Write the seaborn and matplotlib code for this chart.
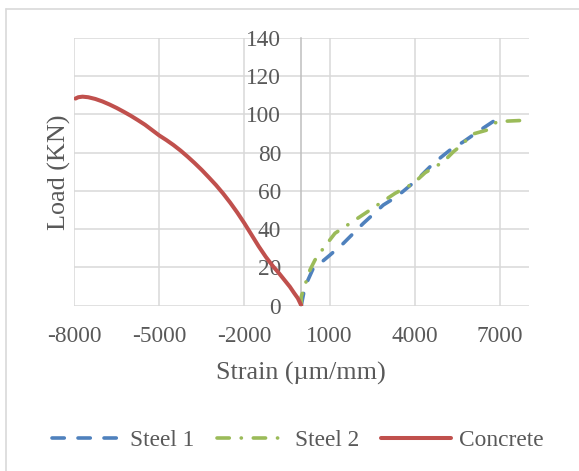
import matplotlib
matplotlib.use("Agg")
import matplotlib.pyplot as plt
from matplotlib.lines import Line2D
import seaborn as sns
import pandas as pd

# Concrete strain (compression, negative) vs load
concrete_strain = [0, -30, -120, -250, -400, -600, -800, -1000, -1250, -1500,
                   -1750, -2000, -2250, -2500, -2750, -3000, -3250, -3500, -3750,
                   -4000, -4250, -4500, -4750, -5000, -5250, -5500, -5750, -6000,
                   -6250, -6500, -6750, -7000, -7250, -7500, -7700, -7850, -7950]
concrete_load = [0, 1.0, 3.8, 6.5, 9.8, 13.5, 17.2, 20.6, 25.5, 31.0,
                 37.0, 43.0, 48.6, 53.8, 58.6, 63.0, 67.0, 70.9, 74.5,
                 77.9, 81.1, 84.0, 86.6, 89.0, 91.8, 94.6, 97.0, 99.3,
                 101.4, 103.4, 105.2, 106.8, 108.1, 109.0, 109.3, 109.0, 108.3]

# Steel 1 strain vs load
steel1_strain = [0, 130, 423, 659, 1011, 1481, 2185, 2890, 3363, 4068,
                 4653, 5241, 5710, 6300, 6887]
steel1_load = [0, 9.8, 19.5, 22.0, 26.4, 32.5, 43.0, 52.6, 57.0, 65.7,
               74.4, 81.4, 85.7, 91.8, 97.6]

# Steel 2 strain vs load
steel2_strain = [0, 0, 130, 307, 483, 776, 1188, 1717, 2245, 2774, 3303, 3948,
                 4360, 5005, 5358, 5653, 6006, 6535, 6887, 7240, 8000]
steel2_load = [0, 4.6, 10.7, 18.6, 23.8, 29.9, 37.8, 43.0, 48.2, 53.5, 58.7, 63.9,
               69.5, 75.2, 80.5, 84.0, 89.6, 91.8, 96.2, 96.5, 97.0]

x_ticks = [-8000, -5000, -2000, 1000, 4000, 7000]
y_ticks = [0, 20, 40, 60, 80, 100, 120, 140]

BLUE = "#4F81BD"
GREEN = "#9BBB59"
RED = "#C0504D"
GRID = "#D9D9D9"
TEXT = "#595959"

sns.set_theme(style="white")
plt.rcParams["font.family"] = ["Liberation Serif", "DejaVu Serif"]

W, H = 579, 471
fig = plt.figure(figsize=(W / 100, H / 100), dpi=100)
ax = fig.add_axes([74 / W, 1 - 305.5 / H, (528.5 - 74) / W, (305.5 - 38) / H])

steel1 = pd.DataFrame({"strain": steel1_strain, "load": steel1_load})
steel2 = pd.DataFrame({"strain": steel2_strain, "load": steel2_load})
concrete = pd.DataFrame({"strain": concrete_strain, "load": concrete_load})

lw = 2.6
sns.lineplot(data=steel1, x="strain", y="load", ax=ax, sort=False, estimator=None,
             color=BLUE, lw=lw, label="Steel 1")
ax.lines[-1].set_dashes([3.4, 3.8])
ax.lines[-1].set_dash_capstyle("round")
sns.lineplot(data=steel2, x="strain", y="load", ax=ax, sort=False, estimator=None,
             color=GREEN, lw=lw, label="Steel 2")
ax.lines[-1].set_dashes([3.4, 3.3, 0.05, 3.3])
ax.lines[-1].set_dash_capstyle("round")
sns.lineplot(data=concrete, x="strain", y="load", ax=ax, sort=False, estimator=None,
             color=RED, lw=2.9, label="Concrete")
ax.lines[-1].set_solid_capstyle("round")
ax.lines[-1].set_solid_joinstyle("round")

ax.set_xlim(-8000, 8000)
ax.set_ylim(0, 140)
ax.set_xticks(x_ticks)
ax.set_yticks(y_ticks)
ax.set_xticklabels([str(v) for v in x_ticks])
ax.set_yticklabels([str(v) for v in y_ticks])

ax.grid(True, color=GRID, lw=1.1)
ax.set_axisbelow(True)
for s in ["top", "right", "bottom"]:
    ax.spines[s].set_visible(False)
ax.spines["left"].set_position(("data", 0))
ax.spines["left"].set_color("#BFBFBF")
ax.spines["left"].set_linewidth(1.1)
ax.spines["left"].set_zorder(1.5)

ax.tick_params(axis="both", length=0, labelsize=16.8, colors=TEXT)
ax.tick_params(axis="y", pad=14.4)
ax.tick_params(axis="x", pad=14.5)

ax.set_xlabel("Strain (µm/mm)", fontsize=18.8, color=TEXT)
ax.set_ylabel("Load (KN)", fontsize=18.8, color=TEXT)
ax.xaxis.set_label_coords(0.5, -0.212)
ax.yaxis.set_label_coords(-0.031, 0.5)
ax.yaxis.label.set_verticalalignment("center")

handles, labels = ax.get_legend_handles_labels()
ax.get_legend().remove()
fig.legend(handles, labels, loc="center", bbox_to_anchor=(298 / W, 1 - 440 / H),
           ncol=3, frameon=False, fontsize=16.8, handlelength=3.0,
           handletextpad=0.35, columnspacing=0.95, labelcolor=TEXT)

# chart area frame
fig.add_artist(Line2D([6 / W, 6 / W], [1 - 9 / H, 0], transform=fig.transFigure,
                      color=GRID, lw=1.2))
fig.add_artist(Line2D([6 / W, 1], [1 - 9 / H, 1 - 9 / H], transform=fig.transFigure,
                      color=GRID, lw=1.2))

fig.savefig("out.png", dpi=100, facecolor="white")
